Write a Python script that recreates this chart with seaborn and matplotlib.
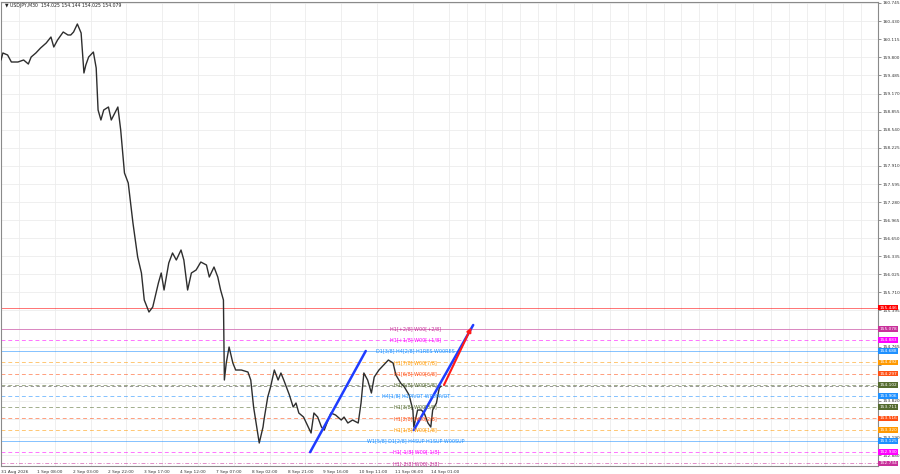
import matplotlib
matplotlib.use("Agg")
import matplotlib.pyplot as plt
import matplotlib.transforms as mtransforms
from matplotlib.ticker import FixedLocator, MultipleLocator
import seaborn as sns

sns.set_style("white")
plt.rcParams["font.family"] = ["DejaVu Sans"]

# USDJPY M30, bar index since the first bar on screen and the price read at it
bars = [0, 2, 7, 11, 18, 24, 29, 32, 37, 42,
        48, 53, 56, 60, 66, 71, 74, 77, 81, 85,
        88, 90, 93, 98, 101, 103, 106, 109, 114, 117,
        124, 127, 131, 135, 138, 140, 145, 149, 152, 157,
        161, 167, 170, 173, 178, 182, 186, 191, 194, 198,
        202, 207, 212, 218, 221, 226, 230, 233, 236, 237,
        239, 242, 246, 249, 255, 262, 265, 268, 273, 274,
        278, 279, 283, 286, 290, 294, 297, 300, 306, 310,
        313, 316, 321, 326, 329, 332, 336, 340, 343, 347,
        350, 355, 361, 364, 368, 373, 379, 382, 385, 389,
        393, 396, 401, 406, 411, 416, 419, 424, 428, 433,
        437, 438, 442, 446, 449, 453, 456, 458, 462, 465,
        467]
close = [159.753, 159.875, 159.840, 159.718, 159.718, 159.753, 159.683, 159.805, 159.875, 159.962,
         160.049, 160.153, 159.979, 160.101, 160.240, 160.188, 160.188, 160.240, 160.379, 160.223,
         159.527, 159.666, 159.805, 159.892, 159.614, 158.883, 158.709, 158.883, 158.935, 158.709,
         158.935, 158.535, 157.787, 157.613, 157.195, 156.917, 156.325, 156.047, 155.577, 155.368,
         155.455, 155.873, 156.047, 155.751, 156.221, 156.395, 156.273, 156.447, 156.273, 155.751,
         156.047, 156.099, 156.238, 156.186, 155.977, 156.151, 155.977, 155.751, 155.577, 154.185,
         154.481, 154.759, 154.481, 154.359, 154.359, 154.324, 154.185, 153.715, 153.193, 153.089,
         153.367, 153.489, 153.889, 154.063, 154.359, 154.185, 154.307, 154.185, 153.924, 153.715,
         153.785, 153.611, 153.541, 153.367, 153.263, 153.611, 153.541, 153.367, 153.315, 153.489,
         153.611, 153.576, 153.489, 153.541, 153.437, 153.489, 153.437, 153.785, 154.307, 154.185,
         153.959, 154.237, 154.359, 154.446, 154.533, 154.481, 154.272, 154.133, 154.063, 153.924,
         153.663, 153.367, 153.663, 153.663, 153.611, 153.437, 153.367, 153.663, 153.785, 154.046,
         154.079]

time_label_bars = [0, 38, 76, 114, 152, 190, 228, 266, 304, 342, 380, 418, 456]
time_labels = ["31 Aug 2026", "1 Sep 08:00", "2 Sep 03:00", "2 Sep 22:00", "3 Sep 17:00",
               "4 Sep 12:00", "7 Sep 07:00", "8 Sep 02:00", "8 Sep 21:00", "9 Sep 16:00",
               "10 Sep 11:00", "11 Sep 06:00", "14 Sep 01:00"]

price_ticks = [160.745, 160.430, 160.115, 159.800, 159.485, 159.170, 158.855, 158.540,
               158.225, 157.910, 157.595, 157.280, 156.965, 156.650, 156.335, 156.025,
               155.710, 155.395, 155.080, 154.765, 154.450, 154.135, 153.820, 153.505,
               153.190, 152.880]

level_prices = [155.446, 155.078, 154.883, 154.688, 154.492, 154.297, 154.102,
                153.906, 153.711, 153.516, 153.320, 153.125, 152.930, 152.734]
level_names = ["", "H1[+2/8] W00[+2/8]", "H1[+1/8] W00[+1/8]",
               "D1[3/8] H4[2/8] H1RES W00RES", "H1[7/8] W00[7/8]", "H1[6/8] W00[6/8]",
               "H1[5/8] W00[5/8]", "H4[1/8] H1PIVOT W00PIVOT", "H1[3/8] W00[3/8]",
               "H1[2/8] W00[2/8]", "H1[1/8] W00[1/8]", "W1[5/8] D1[2/8] H4SUP H1SUP W00SUP",
               "H1[-1/8] W00[-1/8]", "H1[-2/8] W00[-2/8]"]

current_price = 154.079

# hand-drawn trend lines: start bar, start price, end bar, end price
blue_lines = [(328, 152.93, 387, 154.69), (438, 153.315, 501, 155.142)]
red_arrow = (470, 154.098, 499, 155.10)

# styles (colour, linestyle) per level
pink, magenta, blue = "#c8309a", "#ff00ff", "#1e90ff"
orange, orred, olive = "#ff9900", "#ff5014", "#556b2f"
dash = (0, (4, 3))
level_styles = [("#ff0000", "-"), (pink, "-"), (magenta, dash), (blue, "-"),
                (orange, dash), (orred, dash), (olive, dash), (blue, dash),
                (olive, dash), (orred, dash), (orange, dash), (blue, "-"),
                (magenta, dash), (pink, (0, (4, 2, 1, 2)))]

fig = plt.figure(figsize=(9, 4.74), dpi=100)
ax = fig.add_axes([1 / 900, 8 / 474, 877 / 900, 464 / 474])
ax.set_xlim(0, 930.5)
ax.set_ylim(152.689, 160.762)

# grid like the terminal's
ax.xaxis.set_minor_locator(MultipleLocator(19))
ax.yaxis.set_major_locator(FixedLocator(price_ticks))
ax.grid(True, which="minor", axis="x", color="#ececec", lw=0.6)
ax.grid(True, which="major", axis="y", color="#ececec", lw=0.6)
ax.set_axisbelow(True)

for p, (c, ls) in zip(level_prices, level_styles):
    ax.axhline(p, color=c, ls=ls, lw=0.7, alpha=0.55, zorder=1)
ax.axhline(current_price, color="#888888", ls=dash, lw=0.6, zorder=1)

sns.lineplot(x=bars, y=close, ax=ax, color="#2e2e2e", lw=1.0,
             estimator=None, sort=False, zorder=3)

for x0, y0, x1, y1 in blue_lines:
    ax.plot([x0, x1], [y0, y1], color="#1f3cff", lw=1.8, zorder=4)
ax.annotate("", xy=red_arrow[2:], xytext=red_arrow[:2], zorder=4,
            arrowprops=dict(arrowstyle="-|>", color="#ff1a1a", lw=1.5,
                            mutation_scale=6, shrinkA=0, shrinkB=0))

for p, name, (c, ls) in zip(level_prices, level_names, level_styles):
    if name:
        ax.text(440, p, name, color=c, fontsize=3.5, ha="center", va="center", zorder=5)

# price boxes on the right scale
trans = mtransforms.blended_transform_factory(ax.transAxes, ax.transData)
for p, (c, ls) in zip(level_prices, level_styles):
    ax.text(1.0015, p, f"{p:.3f}", transform=trans, fontsize=3.1, color="white",
            ha="left", va="center", clip_on=False, zorder=6,
            bbox=dict(boxstyle="square,pad=0.2", fc=c, ec="none"))

# tick labels that sit under a price box are hidden, as on the terminal
ax.yaxis.tick_right()
tick_text = []
for t in price_ticks:
    near = min(abs(t - p) for p in level_prices)
    tick_text.append("" if near < 0.045 else f"{t:.3f}")
ax.set_yticklabels(tick_text)
ax.set_xticks(time_label_bars)
ax.set_xticklabels(time_labels)
for lab in ax.get_xticklabels():
    lab.set_ha("left")
ax.tick_params(axis="both", which="major", labelsize=3.1, length=2, width=0.5,
               pad=1, colors="#666666", labelcolor="#333333")
ax.tick_params(axis="x", which="minor", length=0)
ax.set_xlabel("")
ax.set_ylabel("")
for side in ["left", "top", "right", "bottom"]:
    ax.spines[side].set_color("#8a8a8a")
    ax.spines[side].set_linewidth(0.8)

ax.text(0.004, 0.997, "\u25bc USDJPY,M30  154.025 154.144 154.025 154.079",
        transform=ax.transAxes, fontsize=3.3, va="top", ha="left", color="#222222")

fig.savefig("out.png", dpi=100)
